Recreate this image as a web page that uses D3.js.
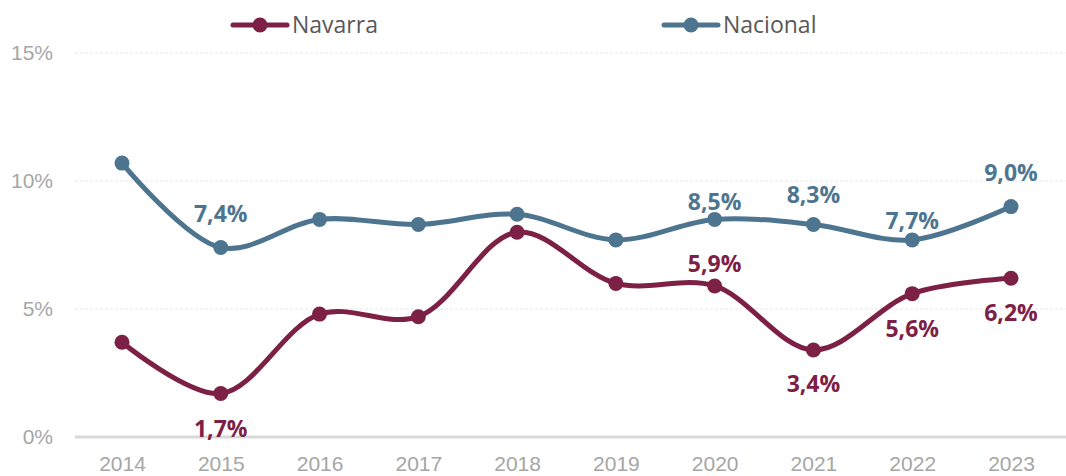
<!DOCTYPE html>
<html>
<head>
<meta charset="utf-8">
<script src="https://cdn.jsdelivr.net/npm/d3@7"></script>
<style>
  body { margin: 0; background: #fff; }
  svg { display: block; font-family: "Open Sans", "Liberation Sans", sans-serif; }
  .tick text { fill: #a6a6a6; font-size: 21px; }
  .legend text { fill: #595959; font-size: 23px; }
  .lbl { font-weight: bold; font-size: 23px; }
</style>
</head>
<body>
<div id="chart"></div>
<script>
//chart values
var years = ["2014", "2015", "2016", "2017", "2018", "2019", "2020", "2021", "2022", "2023"];
var navarra = [3.7, 1.7, 4.8, 4.7, 8.0, 6.0, 5.9, 3.4, 5.6, 6.2];
var nacional = [10.7, 7.4, 8.5, 8.3, 8.7, 7.7, 8.5, 8.3, 7.7, 9.0];
var yTicks = [0, 5, 10, 15];
var labelYears = ["2015", "2020", "2021", "2022", "2023"];

(function(){
  var width = 1066, height = 476;

  var svg = d3.select("#chart").append("svg")
      .attr("width", width)
      .attr("height", height);

  //scales
  var x = d3.scalePoint()
      .domain(years)
      .range([122, 1011]);

  var y = d3.scaleLinear()
      .domain([0, 15])
      .range([437, 53]);

  var fmt = function(v){ return v.toFixed(1).replace(".", ",") + "%"; };

  //gridlines
  svg.selectAll(".grid")
      .data(yTicks.filter(function(d){ return d > 0; }))
      .enter()
      .append("line")
      .attr("x1", 75).attr("x2", width)
      .attr("y1", function(d){ return y(d); })
      .attr("y2", function(d){ return y(d); })
      .attr("stroke", "#e6e6e6")
      .attr("stroke-width", 1)
      .attr("stroke-dasharray", "3,2");

  //y axis labels
  var yAxis = d3.axisLeft(y)
      .tickValues(yTicks)
      .tickSize(0)
      .tickPadding(0)
      .tickFormat(function(d){ return d + "%"; });
  var gy = svg.append("g")
      .attr("transform", "translate(53,0)")
      .call(yAxis);
  gy.select(".domain").remove();
  gy.selectAll(".tick text").attr("font-family", null);

  //x axis with thick baseline
  var xAxis = d3.axisBottom(x).tickSize(0).tickPadding(18);
  var gx = svg.append("g")
      .attr("transform", "translate(0," + y(0) + ")")
      .call(xAxis);
  gx.select(".domain").remove();
  gx.selectAll(".tick text").attr("font-family", null).attr("dy", "0.75em");
  gx.append("line")
      .attr("x1", 75).attr("x2", width)
      .attr("y1", 0).attr("y2", 0)
      .attr("stroke", "#d9d9d9")
      .attr("stroke-width", 3);

  var series = [
    {name: "Navarra", values: navarra, color: "#7d2046"},
    {name: "Nacional", values: nacional, color: "#4e7590"}
  ];

  var line = d3.line()
      .x(function(d, i){ return x(years[i]); })
      .y(function(d){ return y(d); })
      .curve(d3.curveCatmullRom.alpha(0.5));

  series.forEach(function(s){
    svg.append("path")
        .datum(s.values)
        .attr("fill", "none")
        .attr("stroke", s.color)
        .attr("stroke-width", 5)
        .attr("stroke-linecap", "round")
        .attr("d", line);

    svg.selectAll(".dot-" + s.name)
        .data(s.values)
        .enter()
        .append("circle")
        .attr("cx", function(d, i){ return x(years[i]); })
        .attr("cy", function(d){ return y(d); })
        .attr("r", 7.5)
        .attr("fill", s.color);
  });

  //label offsets (layout only): baseline shift from point
  var navDy = {"2015": 44, "2020": -14, "2021": 42, "2022": 43, "2023": 43};
  var nacDy = {"2015": -26, "2020": -9, "2021": -22, "2022": -11, "2023": -26};

  [[series[0], navDy], [series[1], nacDy]].forEach(function(p){
    var s = p[0], offs = p[1];
    svg.selectAll(".lbl-" + s.name)
        .data(labelYears)
        .enter()
        .append("text")
        .attr("class", "lbl")
        .attr("text-anchor", "middle")
        .attr("fill", s.color)
        .attr("x", function(d){ return x(d); })
        .attr("y", function(d){ return y(s.values[years.indexOf(d)]) + offs[d]; })
        .text(function(d){ return fmt(s.values[years.indexOf(d)]); });
  });

  //legend
  var legendX = [233, 664];
  var legend = svg.selectAll(".legend")
      .data(series)
      .enter()
      .append("g")
      .attr("class", "legend")
      .attr("transform", function(d, i){ return "translate(" + legendX[i] + ",25)"; });
  legend.append("line")
      .attr("x1", 0).attr("x2", 54)
      .attr("stroke", function(d){ return d.color; })
      .attr("stroke-width", 5)
      .attr("stroke-linecap", "round");
  legend.append("circle")
      .attr("cx", 27).attr("r", 7.5)
      .attr("fill", function(d){ return d.color; });
  legend.append("text")
      .attr("x", 59).attr("y", 8)
      .text(function(d){ return d.name; });
})();
</script>
</body>
</html>
